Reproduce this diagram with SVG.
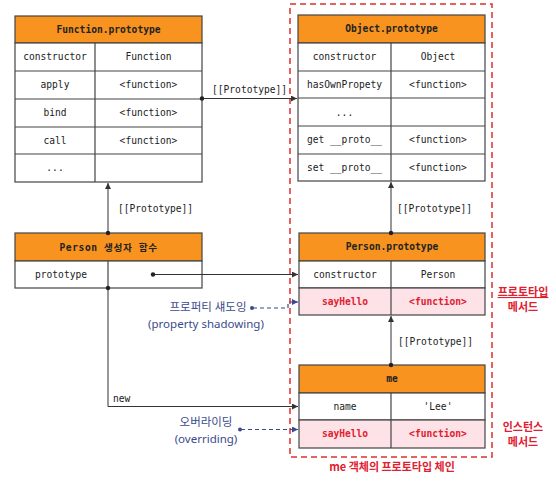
<svg xmlns="http://www.w3.org/2000/svg" width="556" height="481" viewBox="0 0 556 481">
<defs>
<marker id="arr" viewBox="0 0 8 8" refX="8" refY="4" markerWidth="6" markerHeight="6" markerUnits="userSpaceOnUse" orient="auto"><path d="M0,0 L8,4 L0,8 z" fill="#333"/></marker>
<marker id="arrb" viewBox="0 0 8 8" refX="8" refY="4" markerWidth="6" markerHeight="6" markerUnits="userSpaceOnUse" orient="auto"><path d="M0,0 L8,4 L0,8 z" fill="#3b4a8c"/></marker>
<style>
.hd{fill:#f7931e;stroke:#444;stroke-width:1.2}
.row{fill:#fff;stroke:#444;stroke-width:1.2}
.pk{fill:#fde3e8;stroke:#444;stroke-width:1.2}
.ln{stroke:#444;stroke-width:1.2;fill:none}
.t{font-family:"DejaVu Sans Mono","Liberation Mono",monospace;font-size:9.6px;fill:#222;text-anchor:middle}
.th{font-family:"DejaVu Sans Mono","Noto Sans CJK KR",monospace;font-size:9.6px;font-weight:bold;fill:#222;text-anchor:middle}
.tr{font-family:"DejaVu Sans Mono","Liberation Mono",monospace;font-size:9.6px;font-weight:bold;fill:#e02030;text-anchor:middle}
.lb{font-family:"DejaVu Sans Mono","Liberation Mono",monospace;font-size:9.6px;fill:#222}
.con{stroke:#333;stroke-width:1;fill:none}
.bl{font-family:"Noto Sans","Noto Sans CJK KR",sans-serif;font-size:11.5px;fill:#3b4a8c;text-anchor:middle}
.rd{font-family:"Noto Sans CJK KR",sans-serif;font-size:11px;font-weight:bold;fill:#e02030;text-anchor:middle}
.dash{stroke:#3b4a8c;stroke-width:1.2;stroke-dasharray:4,3;fill:none}
</style>
</defs>
<rect x="290" y="4" width="202" height="453" fill="none" stroke="#e0312f" stroke-width="1.5" stroke-dasharray="6,4"/>
<g id="function-prototype">
<rect class="hd" x="15" y="16" width="187" height="27"/>
<text class="th" x="108.5" y="33">Function.prototype</text>
<rect class="row" x="15" y="43" width="187" height="139"/>
<path class="ln" d="M15,71H202M15,99H202M15,127H202M15,154H202M95,43V182"/>
<text class="t" x="55" y="60">constructor</text><text class="t" x="148.5" y="60">Function</text>
<text class="t" x="55" y="88">apply</text><text class="t" x="148.5" y="88">&lt;function&gt;</text>
<text class="t" x="55" y="116">bind</text><text class="t" x="148.5" y="116">&lt;function&gt;</text>
<text class="t" x="55" y="144">call</text><text class="t" x="148.5" y="144">&lt;function&gt;</text>
<text class="t" x="55" y="171">...</text>
</g>
<g id="object-prototype">
<rect class="hd" x="298" y="15" width="187" height="28"/>
<text class="th" x="391.5" y="32">Object.prototype</text>
<rect class="row" x="298" y="43" width="187" height="138"/>
<path class="ln" d="M298,71H485M298,98H485M298,126H485M298,154H485M391,43V181"/>
<text class="t" x="344.5" y="60">constructor</text><text class="t" x="438" y="60">Object</text>
<text class="t" x="344.5" y="88">hasOwnPropety</text><text class="t" x="438" y="88">&lt;function&gt;</text>
<text class="t" x="344.5" y="116">...</text>
<text class="t" x="344.5" y="143">get __proto__</text><text class="t" x="438" y="143">&lt;function&gt;</text>
<text class="t" x="344.5" y="171">set __proto__</text><text class="t" x="438" y="171">&lt;function&gt;</text>
</g>
<g id="person-constructor">
<rect class="hd" x="15" y="233" width="187" height="28"/>
<text class="th" x="108.5" y="251" font-size="10" letter-spacing="0.6">Person 생성자 함수</text>
<rect class="row" x="15" y="261" width="187" height="27"/>
<path class="ln" d="M108,261V288"/>
<text class="t" x="61" y="278">prototype</text>
</g>
<g id="person-prototype">
<rect class="hd" x="299" y="233" width="186" height="28"/>
<text class="th" x="392" y="250">Person.prototype</text>
<rect class="row" x="299" y="261" width="186" height="27"/>
<rect class="pk" x="299" y="288" width="186" height="27"/>
<path class="ln" d="M391,261V315"/>
<text class="t" x="345" y="278">constructor</text><text class="t" x="438" y="278">Person</text>
<text class="tr" x="345" y="305">sayHello</text><text class="tr" x="438" y="305">&lt;function&gt;</text>
</g>
<g id="me">
<rect class="hd" x="299" y="365" width="186" height="28"/>
<text class="th" x="392" y="382">me</text>
<rect class="row" x="299" y="393" width="186" height="27"/>
<rect class="pk" x="299" y="420" width="186" height="28"/>
<path class="ln" d="M391,393V448"/>
<text class="t" x="345" y="410">name</text><text class="t" x="438" y="410">'Lee'</text>
<text class="tr" x="345" y="437">sayHello</text><text class="tr" x="438" y="437">&lt;function&gt;</text>
</g>
<g id="connectors">
<path class="con" d="M202,98.5H297" marker-end="url(#arr)"/>
<circle cx="202" cy="98.5" r="2.2" fill="#222"/>
<text class="lb" x="212" y="93">[[Prototype]]</text>
<path class="con" d="M108,233V183" marker-end="url(#arr)"/>
<circle cx="108" cy="233" r="2.2" fill="#222"/>
<text class="lb" x="118" y="212">[[Prototype]]</text>
<path class="con" d="M391,233V182" marker-end="url(#arr)"/>
<circle cx="391" cy="233" r="2.2" fill="#222"/>
<text class="lb" x="397" y="212">[[Prototype]]</text>
<path class="con" d="M391,365V316" marker-end="url(#arr)"/>
<circle cx="391" cy="365" r="2.2" fill="#222"/>
<text class="lb" x="398" y="345">[[Prototype]]</text>
<path class="con" d="M153,274.5H298" marker-end="url(#arr)"/>
<circle cx="153" cy="274.5" r="2.2" fill="#222"/>
<path class="con" d="M108,288V406.5H298" marker-end="url(#arr)"/>
<circle cx="108" cy="288" r="2.2" fill="#222"/>
<text class="lb" x="113" y="402">new</text>
<path class="dash" d="M253,308H288V302H298" marker-end="url(#arrb)"/>
<circle cx="252" cy="308" r="2" fill="#3b4a8c"/>
<path class="dash" d="M241,429.5H298" marker-end="url(#arrb)"/>
<circle cx="240" cy="429.5" r="2" fill="#3b4a8c"/>
</g>
<text class="bl" x="208" y="311">프로퍼티 섀도잉</text>
<text class="bl" x="206" y="328">(property shadowing)</text>
<text class="bl" x="206" y="426">오버라이딩</text>
<text class="bl" x="206" y="443">(overriding)</text>
<text class="rd" x="523" y="296" text-decoration="underline">프로토타입</text>
<text class="rd" x="523" y="311">메서드</text>
<text class="rd" x="523" y="431">인스턴스</text>
<text class="rd" x="523" y="446">메서드</text>
<text class="rd" x="392" y="471" font-size="12.5">me 객체의 프로토타입 체인</text>
</svg>
